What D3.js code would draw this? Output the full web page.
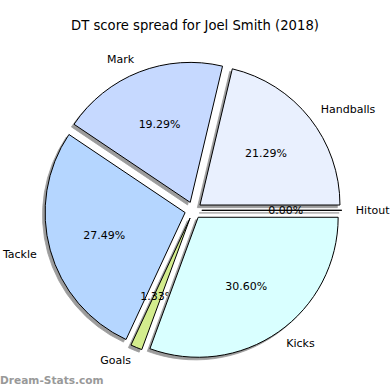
<!DOCTYPE html>
<html>
<head>
<meta charset="utf-8">
<script src="https://cdn.jsdelivr.net/npm/d3@7"></script>
<style>
  body { margin: 0; background: #fff; }
  svg text { font-family: "DejaVu Sans", sans-serif; }
</style>
</head>
<body>
<div id="chart"></div>
<script>
// wedges listed counter-clockwise starting at 3 o'clock (matplotlib style)
var categories = ["Handballs", "Mark", "Tackle", "Goals", "Kicks", "Hitout"];
var values = [21.29, 19.29, 27.49, 1.33, 30.60, 0.00];
var colors = ["#e9f0fe", "#c6d9ff", "#b5d6ff", "#d3ec8d", "#d9ffff", "#ffffff"];
var title = "DT score spread for Joel Smith (2018)";

var visualize = function() {
  var width = 390, height = 390;
  var cx = 193.3, cy = 210.3, radius = 140, explode = 8.5;

  var svg = d3.select("#chart")
    .append("svg")
    .attr("width", width)
    .attr("height", height);

  svg.append("text")
    .attr("x", width / 2)
    .attr("y", 30)
    .attr("text-anchor", "middle")
    .style("font-size", "13.2px")
    .text(title);

  var data = categories.map(function(c, i) {
    return { name: c, value: values[i], color: colors[i] };
  });

  // go counter-clockwise from east: d3 angle pi/2 downwards
  var pie = d3.pie()
    .sort(null)
    .value(function(d) { return d.value; })
    .startAngle(Math.PI / 2)
    .endAngle(Math.PI / 2 - 2 * Math.PI);

  var arc = d3.arc().innerRadius(0).outerRadius(radius);
  var arcs = pie(data);

  var mid = function(d) { return (d.startAngle + d.endAngle) / 2; };
  var off = function(d, r) {
    var a = mid(d);
    return [Math.sin(a) * r, -Math.cos(a) * r];
  };

  var g = svg.append("g")
    .attr("transform", "translate(" + cx + "," + cy + ")");

  var wedge = g.selectAll("g.wedge")
    .data(arcs)
    .enter()
    .append("g")
    .attr("class", "wedge")
    .attr("transform", function(d) {
      var o = off(d, explode);
      return "translate(" + o[0] + "," + o[1] + ")";
    });

  // shadows first
  wedge.append("path")
    .attr("d", arc)
    .attr("transform", "translate(-2.6,2.6)")
    .attr("fill", "#9c9c9c")
    .attr("stroke", "#9c9c9c")
    .attr("stroke-width", 0.8);

  wedge.append("path")
    .attr("d", arc)
    .attr("fill", function(d) { return d.data.color; })
    .attr("stroke", "black")
    .attr("stroke-width", 1)
    .attr("stroke-linejoin", "round");

  // category labels at 1.1 r
  wedge.append("text")
    .attr("x", function(d) { return off(d, radius * 1.1)[0]; })
    .attr("y", function(d) { return off(d, radius * 1.1)[1]; })
    .attr("dy", "0.35em")
    .attr("text-anchor", function(d) { return Math.sin(mid(d)) > 0 ? "start" : "end"; })
    .style("font-size", "11px")
    .text(function(d) { return d.data.name; });

  // percentages at 0.6 r
  wedge.append("text")
    .attr("x", function(d) { return off(d, radius * 0.6)[0]; })
    .attr("y", function(d) { return off(d, radius * 0.6)[1]; })
    .attr("dy", "0.35em")
    .attr("text-anchor", "middle")
    .style("font-size", "11px")
    .text(function(d) { return d.data.value.toFixed(2) + "%"; });

  svg.append("text")
    .attr("x", 0)
    .attr("y", 384)
    .attr("fill", "#999999")
    .style("font-size", "10.6px")
    .style("font-weight", "bold")
    .text("Dream-Stats.com");
};

visualize();
</script>
</body>
</html>
